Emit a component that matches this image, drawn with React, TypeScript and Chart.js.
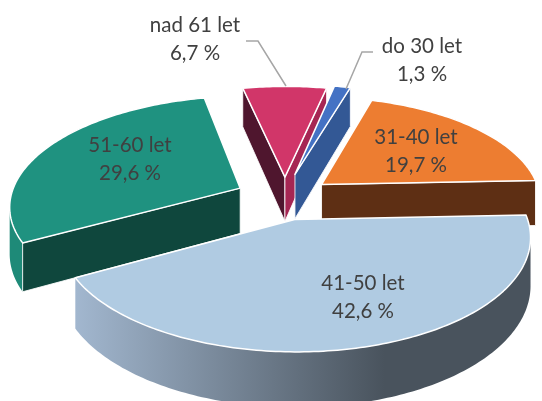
import React, { useEffect, useRef } from "react";
import { Chart, ArcElement, PieController } from "chart.js";

const categories = ["do 30 let", "31-40 let", "41-50 let", "51-60 let", "nad 61 let"];
const shares = [1.3, 19.7, 42.6, 29.6, 6.7];
const shareLabels = ["1,3 %", "19,7 %", "42,6 %", "29,6 %", "6,7 %"];
const topColors = ["#4472C4", "#ED7D31", "#B0CBE2", "#1F9280", "#D13669"];
const startWallColors = ["#335895", "#5E2F14", "#9FB4CC", "#0F473D", "#4F162E"];
const endWallColors = ["#335895", "#5E2F14", "#9FB4CC", "#0F473D", "#A62653"];
const outerWallColors = [
  ["#335895", "#335895"],
  ["#5E2F14", "#5E2F14"],
  ["#A2B7CF", "#49535D"],
  ["#1E8A78", "#1E8A78"],
  ["#A62653", "#A62653"],
];
const explosionPx = [48, 36, 27, 39, 47];
const radiusFactor = [1.03, 0.955, 0.99, 1, 1.04];
const sliceNudge = [
  [-7, 0],
  [-2, -4],
  [-2, 1],
  [-1, -4],
  [-2, 3],
];
const drawOrder = [3, 4, 0, 1, 2];

const labelCentres = [
  [422, 46],
  [416, 137],
  [363, 283],
  [130, 145],
  [195, 25],
];
const leaders = [
  [[373, 52], [362, 52], [346, 89]],
  [[246, 41], [258, 41], [286, 86]],
];

const VIEW = { cx: 287, cy: 202, R: 230, Rk: 108.5, p: 0.15, H: 46 };
const LABEL_LINE = 28;

function project(nx: number, ny: number, z: number, nudge: number[]) {
  const w = 1 + VIEW.p * ny;
  return [
    VIEW.cx + nudge[0] + (VIEW.R * nx) / w,
    VIEW.cy + nudge[1] - (VIEW.Rk * ny) / w + (VIEW.H * z) / w,
  ];
}

class Arc3D extends ArcElement {
  static id = "arc3d";
  static defaults = ArcElement.defaults;
  sliceIndex = 0;
  draw(ctx: CanvasRenderingContext2D) {
    const a0 = (this as any).startAngle as number;
    const a1 = (this as any).endAngle as number;
    const unit = (this as any).outerRadius as number;
    const opts = (this as any).options;
    const i = this.sliceIndex;
    const mid = (a0 + a1) / 2;
    const e = (opts.offset || 0) / unit;
    const ox = e * Math.cos(mid);
    const oy = -e * Math.sin(mid);
    const rf = radiusFactor[i];
    const steps = Math.max(2, Math.ceil(((a1 - a0) * 180) / Math.PI));
    const arcN: number[][] = [];
    for (let s = 0; s <= steps; s++) {
      const a = a0 + ((a1 - a0) * s) / steps;
      arcN.push([rf * Math.cos(a) + ox, -rf * Math.sin(a) + oy]);
    }
    const nudge = sliceNudge[i];
    const top = (n: number[]) => project(n[0], n[1], 0, nudge);
    const bot = (n: number[]) => project(n[0], n[1], 1, nudge);
    const tipN = [ox, oy];
    const tip = top(tipN);
    const midArc = top(arcN[Math.floor(steps / 2)]);

    const facing = (p: number[], q: number[], inside: number[]) => {
      const dx = q[0] - p[0];
      const dy = q[1] - p[1];
      const sideIn = dx * (inside[1] - p[1]) - dy * (inside[0] - p[0]);
      return sideIn * dx < 0;
    };
    const poly = (pts: number[][], fill: any, edge: boolean) => {
      ctx.beginPath();
      pts.forEach((p, k) => (k ? ctx.lineTo(p[0], p[1]) : ctx.moveTo(p[0], p[1])));
      ctx.closePath();
      ctx.fillStyle = fill;
      ctx.fill();
      if (edge) {
        ctx.strokeStyle = "rgba(255,255,255,0.85)";
        ctx.lineWidth = 1;
        ctx.stroke();
      }
    };

    ctx.save();
    ctx.lineJoin = "round";

    // outer curved wall: one polygon per run of camera-facing arc segments
    const xs = arcN.map((n) => top(n)[0]);
    const minX = Math.min(...xs);
    const maxX = Math.max(...xs);
    const grad = ctx.createLinearGradient(minX, 0, maxX, 0);
    grad.addColorStop(0, outerWallColors[i][0]);
    grad.addColorStop(0.68, outerWallColors[i][1]);
    grad.addColorStop(1, outerWallColors[i][1]);
    let run: number[][] = [];
    const flush = () => {
      if (run.length > 1) {
        const upper = run.map(top);
        const lower = run.map(bot).reverse();
        poly([...upper, ...lower], grad, false);
      }
      run = [];
    };
    for (let s = 0; s < steps; s++) {
      if (facing(top(arcN[s]), top(arcN[s + 1]), tip)) {
        if (!run.length) run.push(arcN[s]);
        run.push(arcN[s + 1]);
      } else {
        flush();
      }
    }
    flush();

    // radial cut walls
    const first = top(arcN[0]);
    const last = top(arcN[steps]);
    if (facing(tip, first, midArc)) {
      poly([tip, first, bot(arcN[0]), bot(tipN)], startWallColors[i], true);
    }
    if (facing(tip, last, midArc)) {
      poly([tip, last, bot(arcN[steps]), bot(tipN)], endWallColors[i], true);
    }

    // top face
    ctx.beginPath();
    ctx.moveTo(tip[0], tip[1]);
    arcN.forEach((n) => {
      const p = top(n);
      ctx.lineTo(p[0], p[1]);
    });
    ctx.closePath();
    ctx.fillStyle = opts.backgroundColor;
    ctx.fill();
    ctx.strokeStyle = opts.borderColor;
    ctx.lineWidth = opts.borderWidth;
    ctx.stroke();
    ctx.restore();
  }
}

class Pie3D extends PieController {
  static id = "pie3d";
  static defaults = { ...(PieController as any).defaults, dataElementType: "arc3d" };
  draw() {
    const ctx = (this as any).chart.ctx;
    const arcs = (this as any).getMeta().data;
    drawOrder.forEach((i) => {
      arcs[i].sliceIndex = i;
      arcs[i].draw(ctx);
    });
  }
}

const labelPlugin = {
  id: "sliceLabels",
  afterDatasetsDraw(chart: any) {
    const ctx = chart.ctx;
    ctx.save();
    ctx.strokeStyle = "#A6A6A6";
    ctx.lineWidth = 1.5;
    leaders.forEach((pts) => {
      ctx.beginPath();
      pts.forEach((p, k) => (k ? ctx.lineTo(p[0], p[1]) : ctx.moveTo(p[0], p[1])));
      ctx.stroke();
    });
    ctx.font = "20.5px Lato";
    ctx.fillStyle = "#404040";
    ctx.textAlign = "center";
    ctx.textBaseline = "middle";
    categories.forEach((c, i) => {
      const [x, y] = labelCentres[i];
      ctx.fillText(c, x, y);
      ctx.fillText(shareLabels[i], x, y + LABEL_LINE);
    });
    ctx.restore();
  },
};

Chart.register(Arc3D as any, Pie3D as any);

export default function App() {
  const ref = useRef<HTMLCanvasElement>(null);
  useEffect(() => {
    const chart = new Chart(ref.current as HTMLCanvasElement, {
      type: "pie3d" as any,
      data: {
        labels: categories,
        datasets: [
          {
            data: shares,
            backgroundColor: topColors,
            borderColor: "#FFFFFF",
            borderWidth: 1.5,
            offset: explosionPx,
          } as any,
        ],
      },
      options: {
        responsive: false,
        animation: false,
        rotation: 12,
        events: [],
      } as any,
      plugins: [labelPlugin],
    });
    return () => chart.destroy();
  }, []);
  return (
    <div style={{ position: "fixed", left: 0, top: 0, width: 542, height: 401, background: "#fff" }}>
      <canvas ref={ref} width={542} height={401} style={{ display: "block" }} />
    </div>
  );
}
